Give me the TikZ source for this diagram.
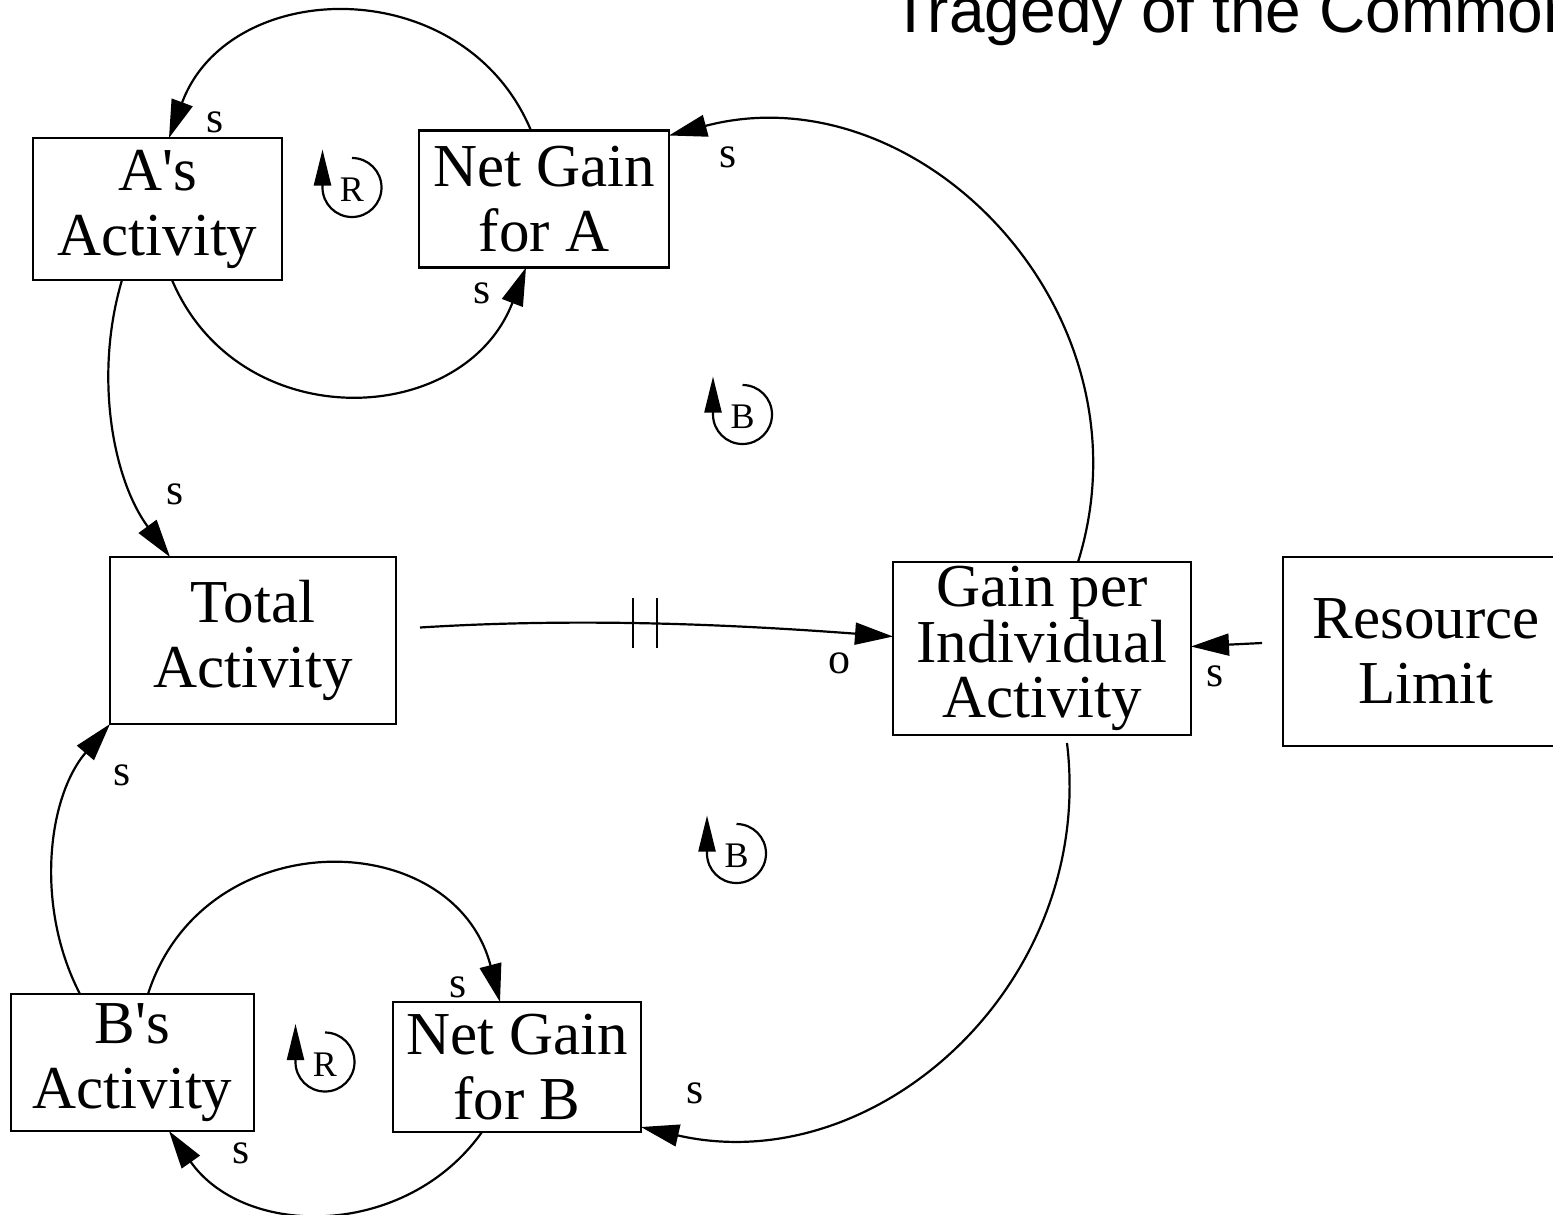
\documentclass[tikz,border=0pt]{standalone}
\usepackage{fontspec}
% no TeX ligature mapping, so that ' stays a straight apostrophe
\setmainfont{Liberation Serif}[Ligatures=TeXOff]
\newfontfamily\titlefamily{Liberation Sans}
\usetikzlibrary{arrows.meta}

\tikzset{
  var/.style={draw, line width=2.4pt, inner sep=0pt, outer sep=0pt,
    align=center, font=\fontsize{61}{65}\selectfont},
  link/.style={line width=2.2pt, line join=miter,
    -{Triangle[length=38pt,width=22pt]}},
  pol/.style={font=\fontsize{44}{44}\selectfont, inner sep=0pt},
  loopsym/.style={line width=2.2pt, -{Triangle[length=36pt,width=17pt]}},
  looplbl/.style={font=\fontsize{36}{36}\selectfont, inner sep=0pt},
  delay/.style={line width=2.2pt},
  pics/loopmark/.style={code={
    \draw[loopsym] (0,-29.5) arc[start angle=90, end angle=-180, radius=29.5pt]
      -- ++(0,-38);
    \node[looplbl] at (0,2.5) {#1};
  }}
}

\begin{document}
\begin{tikzpicture}[x=1pt, y=-1pt]
\useasboundingbox (0,0) rectangle (1553,1215);

% title
\node[anchor=base west, inner sep=0pt, font=\titlefamily\fontsize{64}{64}\selectfont]
  (title) at (891,33) {Tragedy of the Commons};

% variables
\node[var, minimum width=249pt, minimum height=142pt] (as)    at (157.5,209)  {A's\\Activity};
\node[var, minimum width=250pt, minimum height=137pt] (nga)   at (544,199)    {Net Gain\\for A};
\node[var, minimum width=286pt, minimum height=167pt] (total) at (253,640.5)  {Total\\Activity};
\node[var, minimum width=298pt, minimum height=173pt,
      font=\fontsize{61}{55}\selectfont]              (gain)  at (1042,648.5) {Gain per\\Individual\\Activity};
\node[var, minimum width=286pt, minimum height=189pt] (res)   at (1426,651.5) {Resource\\Limit};
\node[var, minimum width=243pt, minimum height=137pt] (bs)    at (132.5,1062.5) {B's\\Activity};
\node[var, minimum width=248pt, minimum height=130pt] (ngb)   at (517,1067)   {Net Gain\\for B};

% reinforcing loop of A
\draw[link] ([xshift=-13pt]nga.north) .. controls +(-67,-160) and +(60,-162) .. ([xshift=11.5pt]as.north);
\draw[link] ([xshift=14.5pt]as.south) .. controls +(67,158) and +(-62,161) .. ([xshift=-18pt]nga.south);

% reinforcing loop of B
\draw[link] ([xshift=15.5pt]bs.north) .. controls +(56,-174) and +(-46,-177) .. ([xshift=-17pt]ngb.north);
\draw[link] ([xshift=-35pt]ngb.south) .. controls +(-76,107) and +(76,108) .. ([xshift=36.5pt]bs.south);

% individual activities add to the total
\draw[link] ([xshift=-35.5pt]as.south) .. controls +(-28,94) and +(-58,-79) .. ([xshift=-83pt]total.north);
\draw[link] ([xshift=-52.5pt]bs.north) .. controls +(-45,-86.5) and +(-63,74) .. (total.south west);

% total activity lowers the gain, with a delay
\draw[link] ([shift={(24,-13)}]total.east) .. controls +(160,-10) and +(-160,-12) .. ([yshift=12pt]gain.west);
\draw[delay] (633,598) -- (633,648);
\draw[delay] (657,598) -- (657,648);

% resource limit
\draw[link] ([shift={(-21,-8.5)}]res.west) -- ([yshift=2pt]gain.east);

% gain feeds back to both net gains
\draw[link] ([xshift=36pt]gain.north) .. controls +(78,-250) and +(250,-66) .. ([yshift=-5pt]nga.north east);
\draw[link] ([shift={(25,8)}]gain.south) .. controls +(29,240) and +(236,54) .. ([yshift=5pt]ngb.south east);

% polarity labels
\node[pol] (pAs)    at (215,122)  {s};
\node[pol] (pNgaR)  at (728,157)  {s};
\node[pol] (pNgaB)  at (482,293)  {s};
\node[pol] (pTotT)  at (175,494)  {s};
\node[pol] (pGainL) at (839,663)  {o};
\node[pol] (pGainR) at (1215,676) {s};
\node[pol] (pTotB)  at (122,775)  {s};
\node[pol] (pNgbT)  at (458,987)  {s};
\node[pol] (pNgbR)  at (695,1093) {s};
\node[pol] (pBs)    at (241,1153) {s};

% loop markers
\pic (loopRA) at (352,187.5)  {loopmark=R};
\pic (loopBA) at (742.5,414.5) {loopmark=B};
\pic (loopBB) at (736.5,853.5) {loopmark=B};
\pic (loopRB) at (325,1062)   {loopmark=R};
\end{tikzpicture}
\end{document}
